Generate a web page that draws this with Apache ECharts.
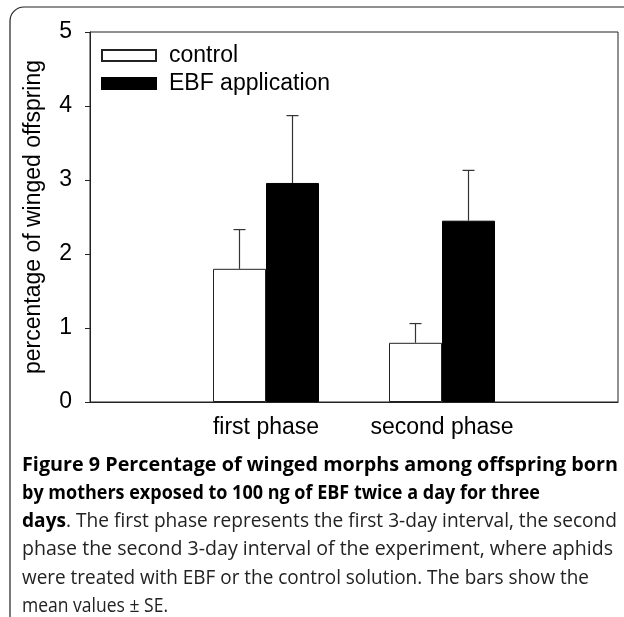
<!DOCTYPE html>
<html>
<head>
<meta charset="utf-8">
<script src="https://cdn.jsdelivr.net/npm/echarts@6/dist/echarts.min.js"></script>
<style>
  html, body { margin: 0; padding: 0; background: #fff; }
  #chart { width: 624px; height: 617px; }
</style>
</head>
<body>
<div id="chart"></div>
<script>
// data
const categories = ['', 'first phase', 'second phase', ''];
const controlMean = [null, 1.80, 0.80, null];
const controlSE = [null, 0.53, 0.26, null];
const ebfMean = [null, 2.96, 2.45, null];
const ebfSE = [null, 0.91, 0.68, null];
const yTicks = [0, 1, 2, 3, 4, 5];

const captionLines = [
  [['b', 'Figure 9 Percentage of winged morphs among offspring born']],
  [['b', 'by mothers exposed to 100 ng of EBF twice a day for three']],
  [['b', 'days'], ['r', '. The first phase represents the first 3-day interval, the second']],
  [['r', 'phase the second 3-day interval of the experiment, where aphids']],
  [['r', 'were treated with EBF or the control solution. The bars show the']],
  [['r', 'mean values \u00b1 SE.']]
];
const captionRight = [618, 540, 617, 613, 589, 168];

const BAR_W = 53;
const chartFont = 'Liberation Sans, Arial, sans-serif';
const capFont = '"Open Sans", "Noto Sans", sans-serif';
const capSize = 19.5;

const chart = echarts.init(document.getElementById('chart'));

// error bar points: [category index, mean, se, side]
function errData(mean, se, side) {
  const out = [];
  mean.forEach((m, i) => {
    if (m != null) out.push([i, m, se[i], side]);
  });
  return out;
}

function renderErr(params, api) {
  const idx = api.value(0);
  const m = api.value(1);
  const se = api.value(2);
  const side = api.value(3);
  const p0 = api.coord([idx, m]);
  const p1 = api.coord([idx, m + se]);
  const x = p0[0] + side * BAR_W / 2;
  const st = { stroke: '#333', lineWidth: 1.2 };
  return {
    type: 'group',
    children: [
      { type: 'line', shape: { x1: x, y1: p0[1], x2: x, y2: p1[1] }, style: st },
      { type: 'line', shape: { x1: x - 6, y1: p1[1], x2: x + 6, y2: p1[1] }, style: st }
    ]
  };
}

// caption, squeezed per line to the width in the picture
const ctx = document.createElement('canvas').getContext('2d');
function measure(parts) {
  let w = 0;
  parts.forEach(([k, t]) => {
    ctx.font = (k === 'b' ? 'bold ' : '') + capSize + 'px ' + capFont;
    w += ctx.measureText(t).width;
  });
  return w;
}
const captionEls = captionLines.map((parts, i) => {
  const w = measure(parts);
  return {
    type: 'text',
    x: 22,
    y: 465 + i * 28.3,
    scaleX: (captionRight[i] - 22) / w,
    style: {
      text: parts.map(([k, t]) => '{' + k + '|' + t + '}').join(''),
      verticalAlign: 'middle',
      rich: {
        b: { fontFamily: capFont, fontSize: capSize, fontWeight: 'bold', fill: '#000' },
        r: { fontFamily: capFont, fontSize: capSize, fill: '#222' }
      }
    }
  };
});

chart.setOption({
  animation: false,
  textStyle: { fontFamily: chartFont },
  grid: {
    left: 90, right: 6, top: 32, bottom: 215,
    show: true, borderColor: '#222', borderWidth: 1
  },
  legend: {
    orient: 'vertical',
    left: 101, top: 44,
    padding: 0,
    itemWidth: 54, itemHeight: 11, itemGap: 5,
    icon: 'rect',
    data: ['control', 'EBF application'],
    textStyle: { fontSize: 23, color: '#000', padding: [0, 0, 0, 8] }
  },
  xAxis: {
    type: 'category',
    data: categories,
    boundaryGap: false,
    axisLine: { lineStyle: { color: '#222', width: 1 } },
    axisTick: { show: false },
    axisLabel: { fontSize: 23, color: '#000', margin: 14, interval: 0 }
  },
  yAxis: {
    type: 'value',
    min: 0, max: 5, interval: 1,
    name: 'percentage of winged offspring',
    nameLocation: 'middle',
    nameGap: 45,
    nameTextStyle: { fontSize: 23, color: '#000' },
    axisLine: { show: true, lineStyle: { color: '#222', width: 1 } },
    axisTick: { show: true, length: 5, lineStyle: { color: '#222' } },
    axisLabel: { fontSize: 23, color: '#000', margin: 18,
      formatter: v => (yTicks.includes(v) ? String(v) : '') },
    splitLine: { show: false }
  },
  series: [
    {
      name: 'control', type: 'bar', data: controlMean,
      barWidth: BAR_W, barGap: '0%',
      itemStyle: { color: '#fff', borderColor: '#222', borderWidth: 1 }
    },
    {
      name: 'EBF application', type: 'bar', data: ebfMean,
      barWidth: BAR_W, barGap: '0%',
      itemStyle: { color: '#000', borderColor: '#000', borderWidth: 1 }
    },
    {
      type: 'custom', renderItem: renderErr, z: 3,
      data: errData(controlMean, controlSE, -1).concat(errData(ebfMean, ebfSE, 1)),
      encode: { x: 0, y: 1 }, silent: true
    }
  ],
  graphic: [
    {
      type: 'rect',
      shape: { x: 10, y: 7, width: 800, height: 700, r: [14, 0, 0, 0] },
      style: { fill: 'none', stroke: '#222', lineWidth: 1.2 },
      silent: true
    }
  ].concat(captionEls)
});
</script>
</body>
</html>
